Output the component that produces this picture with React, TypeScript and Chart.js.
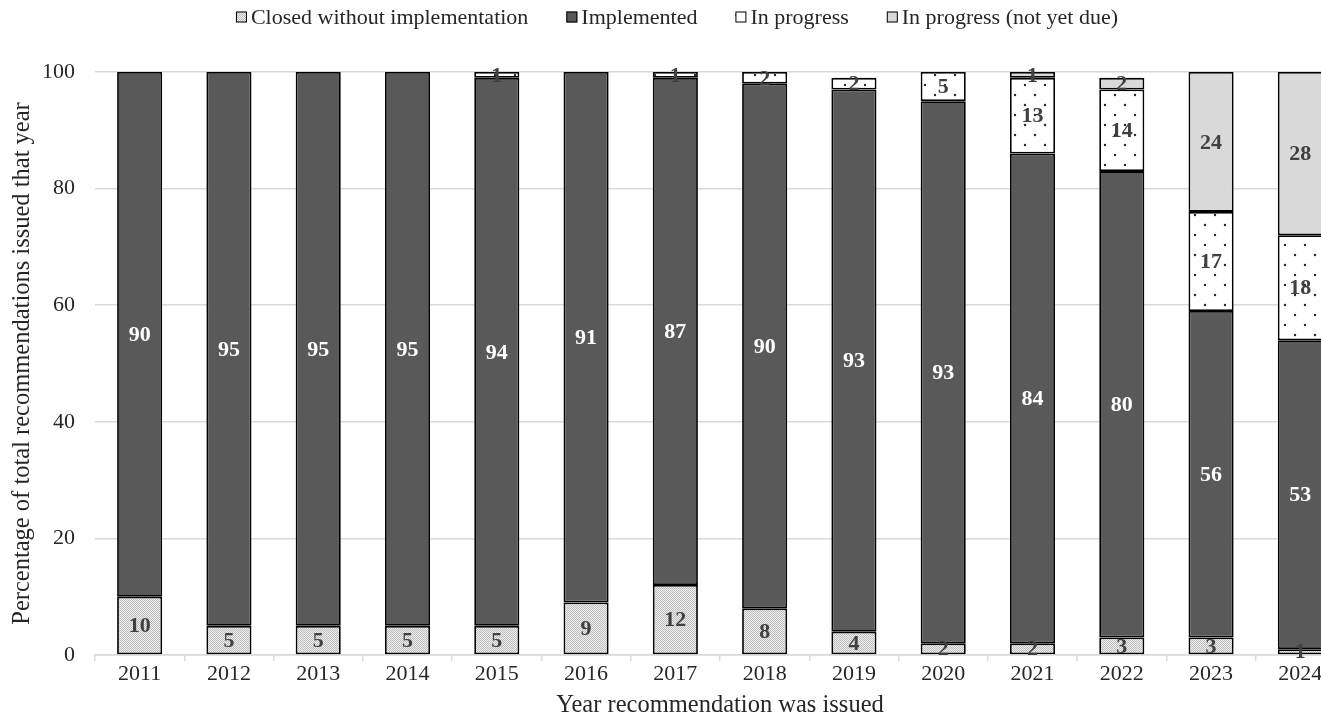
import React, { useEffect, useRef } from 'react';
import { Chart, registerables } from 'chart.js';

Chart.register(...registerables);

// ---- data ----
const years = ['2011', '2012', '2013', '2014', '2015', '2016', '2017', '2018', '2019', '2020', '2021', '2022', '2023', '2024'];
const seriesNames = ['Closed without implementation', 'Implemented', 'In progress', 'In progress (not yet due)'];
const closedWithoutImplementation = [10, 5, 5, 5, 5, 9, 12, 8, 4, 2, 2, 3, 3, 1];
const implemented = [90, 95, 95, 95, 94, 91, 87, 90, 93, 93, 84, 80, 56, 53];
const inProgress = [0, 0, 0, 0, 1, 0, 1, 2, 2, 5, 13, 14, 17, 18];
const inProgressNotYetDue = [0, 0, 0, 0, 0, 0, 0, 0, 0, 0, 1, 2, 24, 28];
const yTickValues = [0, 20, 40, 60, 80, 100];
const xTitle = 'Year recommendation was issued';
const yTitle = 'Percentage of total recommendations issued that year';

const SERIF = '"Liberation Serif", "Times New Roman", Times, serif';
const CANVAS_W = 1354;
const CANVAS_H = 725;

function makeChecker(): CanvasPattern | string {
  const c = document.createElement('canvas');
  c.width = 2;
  c.height = 2;
  const g = c.getContext('2d');
  if (!g) return '#d4d4d4';
  g.fillStyle = '#efefef';
  g.fillRect(0, 0, 2, 2);
  g.fillStyle = '#bdbdbd';
  g.fillRect(0, 0, 1, 1);
  g.fillRect(1, 1, 1, 1);
  return g.createPattern(c, 'repeat') || '#d4d4d4';
}

function makeDots(): CanvasPattern | string {
  const c = document.createElement('canvas');
  c.width = 20;
  c.height = 20;
  const g = c.getContext('2d');
  if (!g) return '#ffffff';
  g.fillStyle = '#ffffff';
  g.fillRect(0, 0, 20, 20);
  g.fillStyle = '#2b2b2b';
  g.beginPath();
  g.arc(5, 5, 1.2, 0, Math.PI * 2);
  g.arc(15, 15, 1.2, 0, Math.PI * 2);
  g.fill();
  return g.createPattern(c, 'repeat') || '#ffffff';
}

const labelColors = ['#404040', '#ffffff', '#404040', '#404040'];

const legendPlugin = {
  id: 'refLegend',
  afterDraw(chart: any) {
    const ctx = chart.ctx as CanvasRenderingContext2D;
    ctx.save();
    ctx.font = `22px ${SERIF}`;
    const box = 11;
    const gapBoxText = 4;
    const gapItems = 38;
    const ds = chart.data.datasets;
    const widths = ds.map((d: any) => ctx.measureText(d.label).width);
    const total = widths.reduce((s: number, w: number) => s + box + gapBoxText + w, 0) + gapItems * (widths.length - 1);
    let x = chart.width / 2 - total / 2;
    const y = 17;
    ds.forEach((d: any, i: number) => {
      ctx.fillStyle = d.backgroundColor;
      ctx.fillRect(x, y - box / 2, box, box);
      ctx.strokeStyle = '#000';
      ctx.lineWidth = 1;
      ctx.strokeRect(x + 0.5, y - box / 2 + 0.5, box - 1, box - 1);
      ctx.fillStyle = '#262626';
      ctx.textBaseline = 'middle';
      ctx.textAlign = 'left';
      ctx.fillText(d.label, x + box + gapBoxText, y + 1);
      x += box + gapBoxText + widths[i] + gapItems;
    });
    ctx.restore();
  },
};

const valueLabelPlugin = {
  id: 'valueLabels',
  afterDatasetsDraw(chart: any) {
    const ctx = chart.ctx as CanvasRenderingContext2D;
    ctx.save();
    ctx.font = `bold 22px ${SERIF}`;
    ctx.textAlign = 'center';
    ctx.textBaseline = 'middle';
    chart.data.datasets.forEach((d: any, i: number) => {
      const meta = chart.getDatasetMeta(i);
      meta.data.forEach((bar: any, j: number) => {
        const v = d.data[j];
        if (v === null || v === undefined) return;
        const p = bar.getProps(['x', 'y', 'base'], true);
        ctx.fillStyle = labelColors[i];
        ctx.fillText(String(v), p.x, (p.y + p.base) / 2 + 1);
      });
    });
    ctx.restore();
  },
};

export default function App() {
  const ref = useRef<HTMLCanvasElement>(null);

  useEffect(() => {
    const canvas = ref.current;
    if (!canvas) return;
    const ctx = canvas.getContext('2d');
    if (!ctx) return;
    const fills = [makeChecker(), '#595959', makeDots(), '#d9d9d9'];
    const seriesValues = [closedWithoutImplementation, implemented, inProgress, inProgressNotYetDue];
    const toNull = (a: number[]) => a.map((v) => (v === 0 ? null : v));

    const chart = new Chart(ctx, {
      type: 'bar',
      data: {
        labels: years,
        datasets: seriesValues.map((vals, i) => ({
          label: seriesNames[i],
          data: toNull(vals),
          backgroundColor: fills[i] as any,
          borderColor: '#000000',
          borderWidth: 1.8,
          borderSkipped: false,
          barPercentage: 0.505,
          categoryPercentage: 1,
        })),
      },
      options: {
        responsive: false,
        animation: false,
        layout: { padding: { top: 72, right: CANVAS_W - 1345, bottom: 0, left: 0 } },
        plugins: {
          legend: { display: false },
          tooltip: { enabled: false },
          title: { display: false },
        },
        scales: {
          x: {
            stacked: true,
            offset: true,
            grid: {
              display: true,
              drawOnChartArea: false,
              drawTicks: true,
              tickLength: 6,
              color: '#d9d9d9',
              lineWidth: 1.5,
            },
            border: { display: true, color: '#d9d9d9', width: 1.5 },
            ticks: {
              color: '#262626',
              font: { family: SERIF, size: 22 },
              padding: 0,
              maxRotation: 0,
            },
            title: {
              display: true,
              text: xTitle,
              color: '#262626',
              font: { family: SERIF, size: 24.5 },
              padding: { top: 0, bottom: 5 },
            },
            afterFit(scale: any) {
              scale.height = CANVAS_H - 655;
            },
          },
          y: {
            stacked: true,
            min: 0,
            max: 100,
            afterBuildTicks(scale: any) {
              scale.ticks = yTickValues.map((v) => ({ value: v }));
            },
            grid: {
              color: '#d9d9d9',
              lineWidth: 1.5,
              drawTicks: false,
            },
            border: { display: false },
            ticks: {
              color: '#262626',
              font: { family: SERIF, size: 22 },
              padding: 20,
            },
            title: {
              display: true,
              text: yTitle,
              color: '#262626',
              font: { family: SERIF, size: 24.5 },
              padding: { top: 8, bottom: 0 },
            },
            afterFit(scale: any) {
              scale.width = 95;
            },
          },
        },
      },
      plugins: [legendPlugin, valueLabelPlugin],
    });

    return () => chart.destroy();
  }, []);

  return (
    <div
      style={{
        position: 'fixed',
        left: 0,
        top: 0,
        width: '1321px',
        height: '725px',
        overflow: 'hidden',
        background: '#ffffff',
      }}
    >
      <canvas ref={ref} width={CANVAS_W} height={CANVAS_H} style={{ display: 'block' }} />
    </div>
  );
}
